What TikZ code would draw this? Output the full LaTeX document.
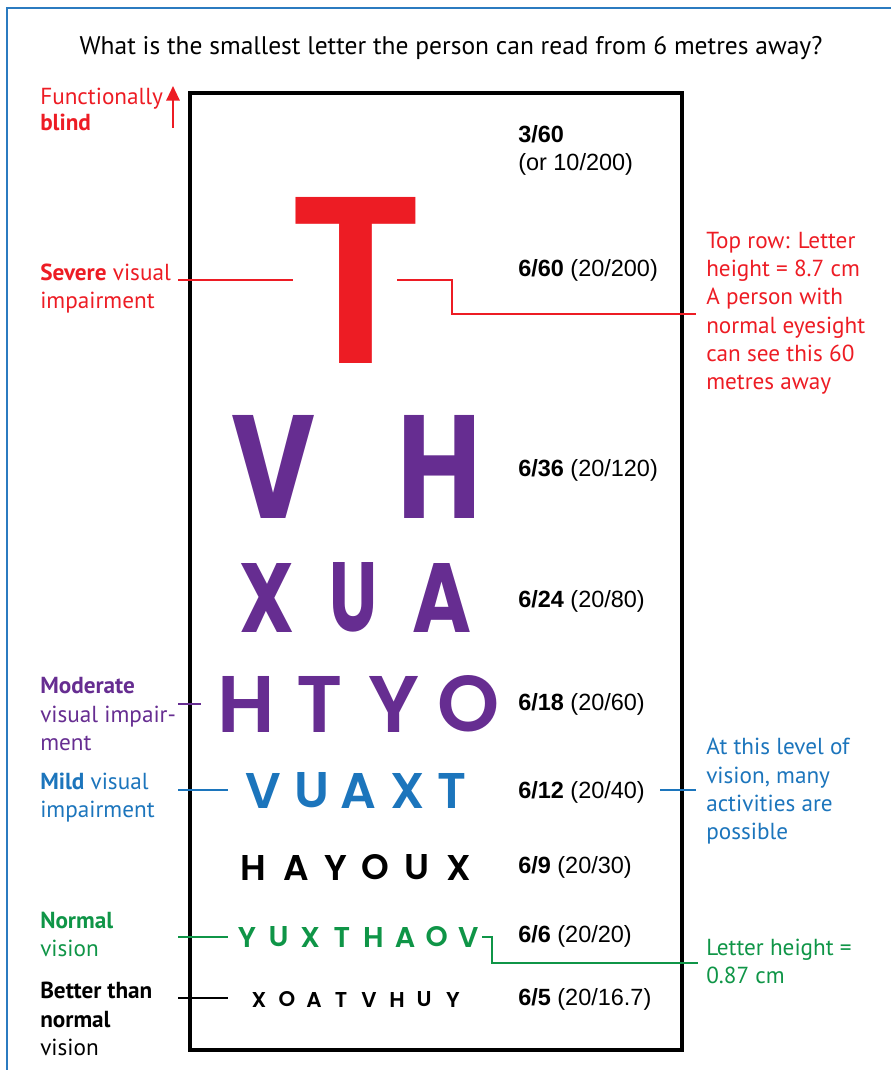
\documentclass[tikz,border=0pt]{standalone}
\usepackage{fontspec}
\setmainfont{PT Sans}
\newfontfamily\arialf{Liberation Sans}
\newfontfamily\chartf{Poppins SemiBold}
\newfontfamily\chartr{Poppins}
\usetikzlibrary{arrows.meta}
\definecolor{cred}{HTML}{ED1C24}
\definecolor{cpurple}{HTML}{662D91}
\definecolor{cblue}{HTML}{1C75BC}
\definecolor{cgreen}{HTML}{0F9547}
\definecolor{cframe}{HTML}{2B7BC0}
\newcommand{\ltr}[2]{\resizebox{!}{#1}{\chartf #2}}
\newcommand{\ltrwh}[3]{\resizebox{#1}{#2}{\chartf #3}}
\newcommand{\ltrbwh}[3]{\resizebox{#1}{#2}{\chartr\bfseries #3}}
\begin{document}
\begin{tikzpicture}[x=0.75pt,y=-0.75pt,
  ann/.style={font=\fontsize{17.4}{21}\selectfont, anchor=base west, inner sep=0pt},
  lab/.style={font=\arialf\fontsize{17.6}{21}\selectfont, anchor=base west, inner sep=0pt},
  letter/.style={inner sep=0pt, anchor=center},
  conn/.style={line width=1.5pt},
  chartbox/.style={draw=black, line width=3pt}]
\useasboundingbox (0,0) rectangle (890,1070);
% outer blue frame
\draw[cframe, line width=2.2pt] (7,1080) -- (7,8) -- (900,8);
% title
\node[font=\fontsize{19.1}{22}\selectfont, anchor=base, inner sep=0pt] (title) at (451,55)
  {What is the smallest letter the person can read from 6 metres away?};
% chart box
\node[chartbox, minimum width=492*0.75pt, minimum height=957*0.75pt, anchor=north west, inner sep=0pt] (chart) at (188,91) {};
% chart letters
\node[letter, text=cred] (T) at (356.5,280) {\ltrwh{101.25pt}{124.5pt}{T}};
\foreach \c/\x/\w in {V/274/63pt,H/440/63pt}
  \node[letter, text=cpurple] (rA\c) at (\x,466.5) {\ltrbwh{\w}{77.25pt}{\c}};
\foreach \c/\x/\w in {X/267.5/41.25pt,U/354/36pt,A/442.5/44.25pt}
  \node[letter, text=cpurple] (rB\c) at (\x,597.5) {\ltrbwh{\w}{51.75pt}{\c}};
\foreach \c/\x in {H/246,T/320,Y/394,O/469}
  \node[letter, text=cpurple] (rC\c) at (\x,704) {\ltr{42pt}{\c}};
\foreach \c/\x in {V/263,U/312,A/358,X/408,T/452}
  \node[letter, text=cblue] (rD\c) at (\x,790.5) {\ltr{26.25pt}{\c}};
\foreach \c/\x in {H/253,A/296,Y/336,O/375,U/417,X/459}
  \node[letter, text=black] (rE\c) at (\x,867.5) {\ltr{18.75pt}{\c}};
\foreach \c/\x in {Y/247,U/278.6,X/310.2,T/341.8,H/373.4,A/405,O/436.6,V/468.2}
  \node[letter, text=cgreen] (rF\c) at (\x,937) {\ltr{15pt}{\c}};
\foreach \c/\x in {X/259,O/287,A/314,T/341,V/369,H/397,U/424,Y/453}
  \node[letter, text=black] (rG\c) at (\x,999.5) {\ltr{11.25pt}{\c}};
% acuity labels
\node[lab] (s1a) at (518,143) {\bfseries 3/60};
\node[lab] (s1b) at (518,171) {(or 10/200)};
\node[lab] (s2) at (518,276) {\textbf{6/60} (20/200)};
\node[lab] (s3) at (518,476) {\textbf{6/36} (20/120)};
\node[lab] (s4) at (518,607) {\textbf{6/24} (20/80)};
\node[lab] (s5) at (518,710) {\textbf{6/18} (20/60)};
\node[lab] (s6) at (518,798) {\textbf{6/12} (20/40)};
\node[lab] (s7) at (518,873) {\textbf{6/9} (20/30)};
\node[lab] (s8) at (518,942) {\textbf{6/6} (20/20)};
\node[lab] (s9) at (518,1005) {\textbf{6/5} (20/16.7)};
% left annotations
\node[ann, text=cred] (fb1) at (40,105) {Functionally};
\node[ann, text=cred] (fb2) at (40,131) {\bfseries blind};
\node[ann, text=cred] (sv1) at (40,280) {\textbf{Severe} visual};
\node[ann, text=cred] (sv2) at (40,308) {impairment};
\node[ann, text=cpurple] (md1) at (40,693) {\bfseries Moderate};
\node[ann, text=cpurple] (md2) at (40,722) {visual impair-};
\node[ann, text=cpurple] (md3) at (40,750) {ment};
\node[ann, text=cblue] (mi1) at (40,789) {\textbf{Mild} visual};
\node[ann, text=cblue] (mi2) at (40,817) {impairment};
\node[ann, text=cgreen] (nv1) at (40,928) {\bfseries Normal};
\node[ann, text=cgreen] (nv2) at (40,956) {vision};
\node[ann] (bt1) at (40,998) {\bfseries Better than};
\node[ann] (bt2) at (40,1027) {\bfseries normal};
\node[ann] (bt3) at (40,1055) {vision};
% right annotations
\node[ann, text=cred] (tr1) at (706,248) {Top row: Letter};
\node[ann, text=cred] (tr2) at (706,276) {height = 8.7 cm};
\node[ann, text=cred] (tr3) at (706,304) {A person with};
\node[ann, text=cred] (tr4) at (706,333) {normal eyesight};
\node[ann, text=cred] (tr5) at (706,361) {can see this 60};
\node[ann, text=cred] (tr6) at (706,389) {metres away};
\node[ann, text=cblue] (al1) at (706,754) {At this level of};
\node[ann, text=cblue] (al2) at (706,783) {vision, many};
\node[ann, text=cblue] (al3) at (706,811) {activities are};
\node[ann, text=cblue] (al4) at (706,839) {possible};
\node[ann, text=cgreen] (lh1) at (706,955) {Letter height =};
\node[ann, text=cgreen] (lh2) at (706,983) {0.87 cm};
% connector end points
\coordinate (arT) at (173,86);
\coordinate (arB) at (173,128);
\coordinate (svA) at (178,280);
\coordinate (svB) at (293,280);
\coordinate (trA) at (397,280);
\coordinate (trK1) at (452,280);
\coordinate (trK2) at (452,314);
\coordinate (trB) at (696,314);
\coordinate (mdA) at (178,704);
\coordinate (mdB) at (201,704);
\coordinate (miA) at (178,790);
\coordinate (miB) at (228,790);
\coordinate (alA) at (660,790);
\coordinate (alB) at (696,790);
\coordinate (nvA) at (178,937);
\coordinate (nvB) at (228,937);
\coordinate (lhA) at (482,937);
\coordinate (lhK1) at (492,937);
\coordinate (lhK2) at (492,963);
\coordinate (lhB) at (698,963);
\coordinate (btA) at (178,998);
\coordinate (btB) at (228,998);
% connectors
\draw[cred, line width=1.6pt, -{Triangle[width=10pt,length=11pt]}] (arB) -- (arT);
\draw[conn, cred] (svA) -- (svB);
\draw[conn, cred] (trA) -- (trK1) -- (trK2) -- (trB);
\draw[conn, cpurple] (mdA) -- (mdB);
\draw[conn, cblue] (miA) -- (miB);
\draw[conn, cblue] (alA) -- (alB);
\draw[conn, cgreen] (nvA) -- (nvB);
\draw[conn, cgreen] (lhA) -- (lhK1) -- (lhK2) -- (lhB);
\draw[conn, black] (btA) -- (btB);
\end{tikzpicture}
\end{document}
